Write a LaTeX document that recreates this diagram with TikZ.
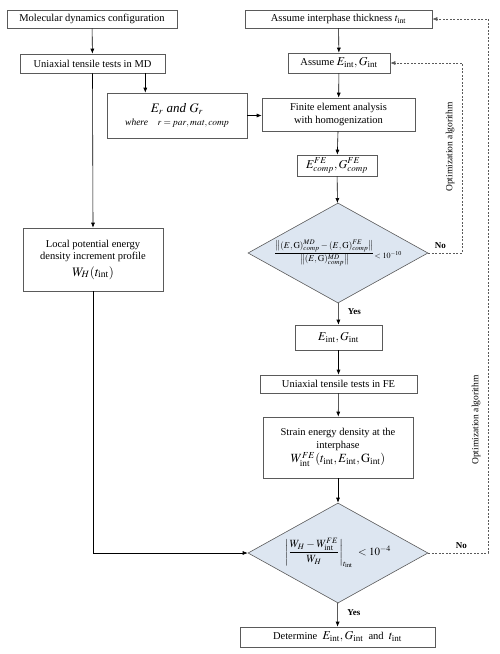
\documentclass[tikz,border=0pt]{standalone}
\usepackage{amsmath}
\usepackage{mathptmx}
\usepackage{fontspec}
\setmainfont{Liberation Serif}
\usepackage{tikz}
\usetikzlibrary{arrows.meta,positioning,shapes.geometric}
\definecolor{boxline}{RGB}{90,90,90}
\definecolor{decfill}{RGB}{221,230,241}
\newcommand{\sint}{\text{int}}

\begin{document}
\begin{tikzpicture}[x=1pt,y=-1pt,
    font=\fontsize{10.5}{12.5}\selectfont,
    stepbox/.style={draw=boxline,line width=0.6pt,fill=white,inner sep=1pt,align=center},
    decision/.style={diamond,draw=boxline,line width=0.6pt,fill=decfill,inner sep=0pt},
    arr/.style={-{Latex[length=5pt,width=4pt]},line width=0.6pt},
    optarr/.style={-{Latex[length=5pt,width=4pt]},line width=0.6pt,dashed,dash pattern=on 2pt off 1.5pt,boxline},
    answer/.style={font=\fontsize{9}{11}\selectfont\bfseries},
    optlabel/.style={rotate=90,font=\fontsize{9.5}{11}\selectfont}
  ]
    \useasboundingbox (0,0) rectangle (499,654);
    \node[stepbox,minimum width=170pt,minimum height=18pt] (md) at (92,19) {Molecular dynamics configuration};
    \node[stepbox,minimum width=145pt,minimum height=19pt] (umd) at (92.5,63.5) {Uniaxial tensile tests in MD};
    \node[stepbox,minimum width=140pt,minimum height=45pt] (erg) at (177,115.5) {{\fontsize{13}{15}\selectfont $E_r$ \textit{and} $G_r$}\\[1pt] {\fontsize{9.5}{11}\selectfont\textit{where}\quad $r = \mathit{par}, \mathit{mat}, \mathit{comp}$}};
    \node[stepbox,minimum width=140pt,minimum height=63pt] (loc) at (93,259.5) {Local potential energy\\density increment profile\\[4pt] {\fontsize{13}{15}\selectfont $W_H(t_{\sint})$}};
    \node[stepbox,minimum width=187pt,minimum height=18pt] (thick) at (338.5,19) {Assume interphase thickness $t_{\sint}$};
    \node[stepbox,minimum width=102pt,minimum height=20pt] (asm) at (339,63) {Assume {\fontsize{12}{14}\selectfont $E_{\sint}, G_{\sint}$}};
    \node[stepbox,minimum width=153pt,minimum height=33pt] (fe) at (338.5,114.5) {Finite element analysis\\with homogenization};
    \node[stepbox,minimum width=80pt,minimum height=21pt] (ecomp) at (337,165.5) {{\fontsize{12}{14}\selectfont $E^{FE}_{comp}, G^{FE}_{comp}$}};
    \node[decision,minimum width=180pt,minimum height=100pt] (d1) at (338,253) {};
    \node (d1txt) at (338,253) {{\fontsize{9}{11}\selectfont $\dfrac{\left\|(E,\mathrm{G})^{MD}_{comp}-(E,\mathrm{G})^{FE}_{comp}\right\|}{\left\|(E,\mathrm{G})^{MD}_{comp}\right\|}$}\raisebox{-3pt}{\fontsize{8}{10}\selectfont $<10^{-10}$}};
    \node[stepbox,minimum width=87pt,minimum height=25pt] (eint) at (338.5,337.5) {{\fontsize{12}{14}\selectfont $E_{\sint}, G_{\sint}$}};
    \node[stepbox,minimum width=157pt,minimum height=18pt] (ufe) at (338.5,384) {Uniaxial tensile tests in FE};
    \node[stepbox,minimum width=150pt,minimum height=61pt] (sed) at (338,447.5) {Strain energy density at the\\interphase\\[1pt] {\fontsize{12.5}{14}\selectfont $W^{FE}_{\sint}(t_{\sint}, E_{\sint}, \mathrm{G}_{\sint})$}};
    \node[decision,minimum width=180pt,minimum height=100pt] (d2) at (338,553) {};
    \node (d2txt) at (338,553) {{\fontsize{11}{13}\selectfont $\left|\dfrac{W_H - W^{FE}_{\sint}}{W_H}\right|_{t_{\sint}}\ < 10^{-4}$}};
    \node[stepbox,minimum width=195pt,minimum height=20pt] (det) at (337.5,637) {Determine\ \ {\fontsize{12}{14}\selectfont $E_{\sint}, G_{\sint}$}\ \ and\ \ {\fontsize{12}{14}\selectfont $t_{\sint}$}};

    \coordinate (c1) at (462,63);
    \coordinate (c2) at (488,19);

    \draw[arr] (md) -- (umd);
    \draw[arr] (umd.south) -- (loc.north);
    \draw[arr] ([xshift=-20pt]umd.south east) -- ([xshift=-20pt]umd.south east |- erg.north);
    \draw[arr] (erg.east) -- (erg.east -| fe.west);
    \draw[arr] (thick) -- (asm);
    \draw[arr] (asm) -- (fe);
    \draw[arr] (fe) -- (ecomp);
    \draw[arr] (ecomp) -- (d1);
    \draw[arr] (d1) -- node[answer,right=6pt,pos=0.4] (y1) {Yes} (eint);
    \draw[arr] (eint) -- (ufe);
    \draw[arr] (ufe) -- (sed);
    \draw[arr] (sed) -- (d2);
    \draw[arr] (loc.south) |- (d2.west);
    \draw[arr] (d2) -- node[answer,right=6pt,pos=0.4] (y2) {Yes} (det);
    \draw[optarr] (d1.east) -| (c1) -- (asm.east);
    \draw[optarr] (d2.east) -| (c2) -- (thick.east);
    \node[answer,above right=1pt and 3pt of d1.east] (n1) {No};
    \node[answer,above right=1pt and 24pt of d2.east] (n2) {No};
    \node[optlabel] (opt1) at (450,147) {Optimization algorithm};
    \node[optlabel] (opt2) at (476,420) {Optimization algorithm};
  \end{tikzpicture}
\end{document}
